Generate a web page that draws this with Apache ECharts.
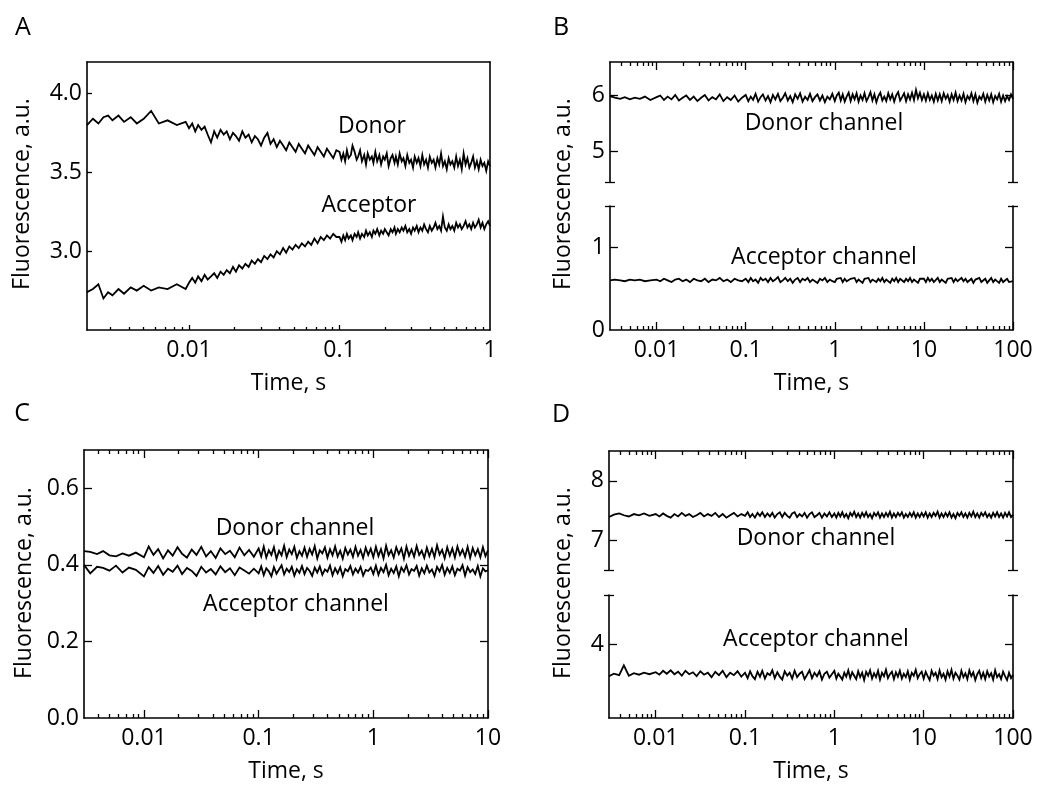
<!DOCTYPE html>
<html><head><meta charset="utf-8">
<script src="https://cdn.jsdelivr.net/npm/echarts@6/dist/echarts.min.js"></script>
<style>html,body{margin:0;padding:0;background:#fff}#c{width:1037px;height:790px}</style>
</head><body><div id="c"></div>
<script>
// ---------------- DATA ----------------
// Panel A (time, s)
const tA = [0.0021,0.0023,0.0025,0.0027,0.0029,0.0031,0.0034,0.0037,0.0041,0.0045,0.005,0.0056,0.0063,0.0072,0.0083,0.0095,
0.0100,0.0105,0.0110,0.0115,0.0121,0.0127,0.0133,0.0140,0.0147,0.0154,0.0162,0.0170,0.0178,0.0187,0.0196,0.0205,0.0215,0.0226,0.0237,0.0249,
0.0261,0.0274,0.0287,0.0301,0.0316,0.0332,0.0348,0.0365,0.0383,0.0402,0.0422,0.0442,0.0464,0.0487,0.0511,0.0536,0.0562,0.0590,0.0619,0.0649,
0.0681,0.0715,0.0750,0.0787,0.0825,0.0866,0.0909,0.0953,
0.1,0.103,0.106,0.109,0.112,0.115,0.119,0.122,0.126,0.130,0.133,0.137,0.141,0.146,0.150,0.154,0.159,0.164,0.168,0.173,
0.178,0.184,0.189,0.195,0.200,0.206,0.212,0.219,0.225,0.232,0.237,0.244,0.251,0.259,0.266,0.274,0.282,0.291,0.299,0.308,
0.316,0.326,0.335,0.345,0.355,0.365,0.376,0.387,0.398,0.410,0.422,0.434,0.447,0.460,0.473,0.487,0.501,0.516,0.531,0.546,
0.562,0.579,0.596,0.613,0.631,0.649,0.668,0.688,0.708,0.729,0.750,0.772,0.794,0.818,0.841,0.866,0.891,0.917,0.944,0.972,1.0];
const donorA = [3.80,3.84,3.81,3.85,3.86,3.83,3.86,3.82,3.85,3.81,3.84,3.89,3.81,3.83,3.80,3.82,
3.78,3.81,3.76,3.80,3.77,3.79,3.74,3.69,3.76,3.72,3.77,3.74,3.76,3.71,3.75,3.73,3.70,3.76,3.72,3.74,
3.69,3.73,3.71,3.67,3.72,3.75,3.68,3.71,3.66,3.70,3.67,3.64,3.69,3.66,3.63,3.68,3.65,3.62,3.67,3.64,
3.61,3.66,3.63,3.60,3.65,3.62,3.59,3.64,
3.63,3.58,3.62,3.57,3.64,3.59,3.61,3.67,3.63,3.58,3.60,3.64,3.57,3.61,3.55,3.62,3.58,3.60,3.56,3.63,
3.57,3.61,3.55,3.60,3.58,3.62,3.54,3.59,3.61,3.56,3.60,3.55,3.62,3.57,3.59,3.54,3.61,3.56,3.58,3.53,
3.60,3.56,3.59,3.54,3.61,3.55,3.58,3.53,3.60,3.56,3.58,3.53,3.59,3.55,3.62,3.54,3.57,3.52,3.59,3.55,
3.57,3.53,3.60,3.54,3.58,3.52,3.62,3.55,3.59,3.53,3.56,3.60,3.53,3.57,3.52,3.58,3.54,3.56,3.51,3.57,3.54];
const acceptorA = [2.74,2.76,2.79,2.70,2.74,2.72,2.76,2.73,2.77,2.75,2.78,2.75,2.77,2.76,2.79,2.76,
2.80,2.83,2.80,2.84,2.81,2.85,2.82,2.84,2.86,2.83,2.87,2.85,2.88,2.86,2.90,2.87,2.91,2.89,2.92,2.90,
2.94,2.92,2.95,2.93,2.97,2.95,2.98,2.96,3.00,2.98,3.02,2.99,3.03,3.01,3.04,3.02,3.05,3.03,3.06,3.04,
3.08,3.05,3.09,3.07,3.10,3.08,3.11,3.09,
3.09,3.06,3.10,3.07,3.11,3.08,3.10,3.07,3.11,3.09,3.12,3.08,3.11,3.09,3.13,3.10,3.12,3.09,3.13,3.11,
3.14,3.10,3.13,3.11,3.14,3.12,3.10,3.14,3.12,3.15,3.11,3.14,3.12,3.15,3.13,3.16,3.12,3.14,3.11,3.15,
3.13,3.16,3.12,3.15,3.13,3.17,3.14,3.12,3.16,3.13,3.15,3.18,3.14,3.16,3.13,3.22,3.15,3.13,3.17,3.14,
3.16,3.13,3.18,3.15,3.17,3.14,3.16,3.19,3.15,3.17,3.14,3.18,3.15,3.17,3.20,3.15,3.18,3.14,3.17,3.19,3.16];

// Panels B and D share the same time points
const tBD = [0.003,0.0034,0.0039,0.0044,0.005,0.0057,0.0065,0.0074,0.0085,
0.0100,0.0110,0.0121,0.0133,0.0147,0.0162,0.0178,0.0196,0.0215,0.0237,0.0261,0.0287,0.0316,0.0348,0.0383,0.0422,0.0464,0.0511,0.0562,0.0619,0.0681,0.0750,0.0825,0.0909,
0.100,0.107,0.114,0.121,0.129,0.138,0.147,0.156,0.167,0.178,0.190,0.202,0.215,0.230,0.245,0.261,0.278,0.297,0.316,0.337,
0.359,0.383,0.408,0.435,0.464,0.495,0.527,0.562,0.599,0.639,0.681,0.726,0.774,0.825,0.880,0.938,
1.000,1.053,1.108,1.166,1.227,1.292,1.359,1.431,1.506,1.585,1.668,1.756,1.848,1.945,2.048,2.154,2.268,2.387,2.512,2.644,
2.783,2.929,3.083,3.245,3.415,3.594,3.783,3.981,4.190,4.410,4.642,4.885,5.142,5.412,5.696,5.995,6.310,6.641,6.990,7.356,
7.743,8.149,8.577,9.027,9.501,
10.00,10.53,11.08,11.66,12.27,12.92,13.59,14.31,15.06,15.85,16.68,17.56,18.48,19.45,20.48,21.54,22.68,23.87,25.12,26.44,
27.83,29.29,30.83,32.45,34.15,35.94,37.83,39.81,41.90,44.10,46.42,48.85,51.42,54.12,56.96,59.95,63.10,66.41,69.90,73.56,
77.43,81.49,85.77,90.27,95.01,100];
const donorB = [5.99,5.96,5.94,5.97,5.93,5.96,5.94,5.98,5.92,
5.97,6.00,5.92,5.98,5.93,6.01,5.91,5.96,6.00,5.92,5.98,5.90,5.96,6.01,5.91,5.97,5.93,6.02,5.90,5.97,5.92,6.00,5.89,5.96,
6.01,5.90,5.98,5.92,6.03,5.89,5.97,6.02,5.91,5.99,5.88,6.01,5.93,6.03,5.90,5.96,6.04,5.91,5.99,5.88,
6.02,5.94,6.04,5.89,5.98,5.92,6.03,5.90,5.97,6.02,5.91,6.00,5.88,5.98,5.93,6.03,
5.90,6.00,6.05,5.91,6.02,5.89,5.98,6.05,5.90,6.02,5.93,6.04,5.89,6.00,5.92,6.04,5.90,5.97,6.06,5.91,
6.02,5.88,5.99,6.05,5.91,5.98,5.90,6.04,5.93,6.02,5.89,6.00,6.06,5.91,5.97,6.04,5.90,6.02,5.93,6.05,
5.92,6.10,5.95,6.05,5.92,
6.02,5.91,6.04,5.92,6.00,5.89,6.03,5.91,6.02,5.90,6.04,5.94,6.01,5.89,6.02,5.92,6.05,5.90,6.00,5.91,
6.03,5.88,5.99,5.93,6.04,5.90,6.02,5.87,5.98,5.93,6.03,5.89,6.01,5.91,6.02,5.88,5.99,5.93,6.03,5.89,
6.00,5.90,5.99,5.92,6.02,5.94];
const acceptorB = [0.60,0.61,0.60,0.59,0.61,0.60,0.61,0.59,0.60,
0.61,0.59,0.62,0.60,0.58,0.61,0.62,0.59,0.61,0.58,0.62,0.60,0.59,0.62,0.58,0.61,0.60,0.63,0.59,0.61,0.58,0.62,0.60,0.59,
0.62,0.58,0.63,0.59,0.61,0.57,0.63,0.60,0.62,0.58,0.63,0.59,0.61,0.64,0.58,0.60,0.63,0.59,0.62,0.57,
0.61,0.63,0.58,0.62,0.60,0.63,0.58,0.61,0.59,0.57,0.62,0.60,0.63,0.58,0.61,0.59,
0.58,0.62,0.60,0.63,0.58,0.62,0.59,0.57,0.62,0.60,0.63,0.58,0.61,0.59,0.57,0.62,0.60,0.63,0.58,0.61,
0.62,0.58,0.62,0.59,0.63,0.58,0.61,0.60,0.57,0.62,0.59,0.63,0.58,0.62,0.60,0.58,0.62,0.59,0.63,0.58,
0.61,0.60,0.57,0.62,0.60,
0.62,0.58,0.63,0.59,0.62,0.58,0.60,0.63,0.58,0.61,0.59,0.57,0.62,0.60,0.63,0.58,0.62,0.59,0.57,0.63,
0.59,0.62,0.58,0.60,0.62,0.57,0.61,0.59,0.63,0.58,0.60,0.62,0.57,0.60,0.63,0.58,0.61,0.59,0.57,0.62,
0.58,0.60,0.62,0.58,0.60,0.59];
const donorD = [7.39,7.43,7.45,7.42,7.40,7.44,7.42,7.45,7.41,
7.44,7.40,7.45,7.41,7.38,7.44,7.40,7.46,7.41,7.44,7.39,7.42,7.46,7.40,7.44,7.41,7.46,7.39,7.44,7.38,7.42,7.46,7.40,7.44,
7.41,7.47,7.39,7.44,7.38,7.46,7.41,7.47,7.39,7.45,7.40,7.46,7.38,7.44,7.47,7.39,7.46,7.41,7.38,7.45,
7.47,7.39,7.44,7.40,7.46,7.38,7.44,7.47,7.39,7.42,7.46,7.38,7.45,7.40,7.47,7.39,
7.45,7.38,7.46,7.40,7.47,7.39,7.44,7.37,7.46,7.41,7.48,7.39,7.45,7.38,7.46,7.40,7.47,7.39,7.44,7.37,
7.46,7.41,7.47,7.38,7.45,7.39,7.46,7.40,7.48,7.38,7.45,7.39,7.46,7.41,7.47,7.38,7.44,7.39,7.46,7.40,
7.47,7.38,7.45,7.39,7.46,
7.40,7.47,7.38,7.45,7.39,7.46,7.41,7.48,7.38,7.45,7.39,7.46,7.40,7.47,7.38,7.44,7.37,7.46,7.41,7.47,
7.39,7.45,7.38,7.46,7.40,7.48,7.39,7.45,7.38,7.46,7.41,7.47,7.39,7.44,7.38,7.46,7.40,7.47,7.39,7.45,
7.38,7.46,7.40,7.47,7.39,7.43];
const acceptorD = [3.35,3.40,3.37,3.57,3.36,3.41,3.38,3.42,3.39,
3.43,3.38,3.46,3.40,3.47,3.39,3.44,3.36,3.46,3.39,3.43,3.35,3.45,3.38,3.42,3.33,3.44,3.37,3.46,3.33,3.42,3.37,3.45,3.34,
3.42,3.31,3.45,3.35,3.29,3.44,3.34,3.46,3.30,3.41,3.37,3.47,3.31,3.43,3.34,3.28,3.45,3.36,3.42,3.30,
3.46,3.33,3.40,3.44,3.29,3.38,3.47,3.31,3.42,3.35,3.45,3.28,3.40,3.44,3.32,3.39,
3.46,3.30,3.40,3.44,3.28,3.42,3.34,3.47,3.31,3.43,3.36,3.29,3.45,3.33,3.42,3.27,3.44,3.36,3.47,3.30,
3.41,3.33,3.46,3.28,3.42,3.35,3.48,3.31,3.39,3.44,3.29,3.43,3.34,3.46,3.30,3.40,3.33,3.45,3.28,3.42,
3.36,3.48,3.31,3.39,3.44,
3.30,3.44,3.35,3.27,3.46,3.36,3.42,3.29,3.47,3.33,3.40,3.28,3.45,3.34,3.48,3.30,3.42,3.36,3.28,3.46,
3.33,3.41,3.29,3.47,3.35,3.43,3.27,3.39,3.46,3.31,3.42,3.29,3.45,3.34,3.41,3.28,3.47,3.33,3.39,3.29,
3.44,3.35,3.27,3.42,3.31,3.38];

// Panel C
const tC = [0.003,0.0034,0.0039,0.0044,0.005,0.0057,0.0065,0.0074,0.0085,
0.0100,0.0110,0.0121,0.0133,0.0147,0.0162,0.0178,0.0196,0.0215,0.0237,0.0261,0.0287,0.0316,0.0348,0.0383,0.0422,0.0464,0.0511,0.0562,0.0619,0.0681,0.0750,0.0825,0.0909,
0.1000,0.1053,0.1108,0.1166,0.1227,0.1292,0.1359,0.1431,0.1506,0.1585,0.1668,0.1756,0.1848,0.1945,0.2048,0.2154,0.2268,0.2387,0.2512,0.2644,
0.2783,0.2929,0.3083,0.3245,0.3415,0.3594,0.3783,0.3981,0.4190,0.4410,0.4642,0.4885,0.5142,0.5412,0.5696,0.5995,0.6310,0.6641,0.6990,0.7356,
0.7743,0.8149,0.8577,0.9027,0.9501,
1.000,1.053,1.108,1.166,1.227,1.292,1.359,1.431,1.506,1.585,1.668,1.756,1.848,1.945,2.048,2.154,2.268,2.387,2.512,2.644,
2.783,2.929,3.083,3.245,3.415,3.594,3.783,3.981,4.190,4.410,4.642,4.885,5.142,5.412,5.696,5.995,6.310,6.641,6.990,7.356,
7.743,8.149,8.577,9.027,9.501,10];
const donorC = [0.436,0.434,0.428,0.436,0.425,0.422,0.430,0.424,0.432,
0.420,0.448,0.426,0.441,0.417,0.438,0.424,0.446,0.429,0.419,0.440,0.426,0.447,0.422,0.436,0.418,0.443,0.428,0.437,0.420,0.445,0.425,0.439,0.421,
0.443,0.422,0.448,0.419,0.438,0.426,0.446,0.416,0.437,0.425,0.450,0.420,0.440,0.428,0.447,0.418,0.436,0.424,0.445,0.421,
0.442,0.427,0.449,0.417,0.438,0.430,0.446,0.419,0.441,0.425,0.448,0.422,0.437,0.416,0.444,0.427,0.440,0.421,0.447,0.424,
0.439,0.418,0.445,0.426,0.442,
0.420,0.447,0.423,0.441,0.417,0.450,0.425,0.438,0.419,0.446,0.428,0.443,0.416,0.448,0.424,0.440,0.421,0.449,0.426,0.437,
0.418,0.445,0.423,0.442,0.420,0.451,0.427,0.439,0.417,0.446,0.424,0.443,0.419,0.448,0.426,0.440,0.421,0.447,0.418,0.444,
0.425,0.441,0.420,0.446,0.423,0.438];
const acceptorC = [0.400,0.378,0.395,0.392,0.385,0.398,0.380,0.393,0.387,
0.370,0.394,0.379,0.397,0.374,0.390,0.382,0.398,0.376,0.392,0.384,0.371,0.395,0.380,0.389,0.375,0.396,0.381,0.391,0.373,0.393,0.385,0.377,0.390,
0.378,0.396,0.373,0.391,0.383,0.370,0.394,0.377,0.388,0.399,0.375,0.390,0.381,0.395,0.372,0.389,0.379,0.397,0.376,0.392,
0.384,0.371,0.393,0.380,0.396,0.374,0.388,0.382,0.398,0.373,0.391,0.378,0.394,0.370,0.389,0.383,0.397,0.375,0.390,0.380,
0.395,0.372,0.387,0.384,0.393,
0.376,0.398,0.374,0.392,0.381,0.400,0.373,0.390,0.379,0.396,0.370,0.393,0.382,0.399,0.375,0.389,0.384,0.397,0.372,0.391,
0.378,0.398,0.380,0.388,0.371,0.395,0.383,0.400,0.374,0.392,0.379,0.396,0.373,0.390,0.385,0.399,0.372,0.394,0.381,0.388,
0.376,0.397,0.370,0.391,0.383,0.386];

// Tick values / labels
const xTicksA = [0.01, 0.1, 1];
const xTicksB = [0.01, 0.1, 1, 10, 100];
const xTicksC = [0.01, 0.1, 1, 10];
const xTicksD = [0.01, 0.1, 1, 10, 100];
const yTicksA = [3.0, 3.5, 4.0];
const yTicksBUpper = [5, 6];
const yTicksBLower = [0, 1];
const yTicksC = [0.0, 0.2, 0.4, 0.6];
const yTicksDUpper = [7, 8];
const yTicksDLower = [4];

// ---------------- BUILD ----------------
const FONT = '"Open Sans", "Noto Sans", sans-serif';
const FS = 23;
const LINE = {color: '#000', width: 1.6};
const TICK = {color: '#000', width: 1.3};
const grid = [], xAxis = [], yAxis = [], series = [];

function fmtX(v) { return String(+Number(v).toPrecision(6)); }
function fmt1(v) { return Number(v).toFixed(1); }
function fmt0(v) { return String(Math.round(v)); }
function minorTicks(min, max) {
  const out = [];
  for (let e = -4; e <= 2; e++) for (let k = 2; k <= 9; k++) {
    const v = +(k * Math.pow(10, e)).toPrecision(6);
    if (v > min && v < max) out.push(v);
  }
  return out;
}
function xAx(gi, min, max, pos, o) {
  const a = {
    gridIndex: gi, type: 'log', logBase: 10, min: min, max: max, position: pos,
    splitLine: {show: false}, minorTick: {show: false},
    axisLine: {show: !!o.line, onZero: false, lineStyle: LINE},
    axisTick: {show: !!o.ticks, inside: true, length: o.len || 8, lineStyle: TICK},
    axisLabel: {show: !!o.labels, formatter: fmtX, fontFamily: FONT, fontSize: FS, color: '#000', margin: 9},
    axisPointer: {show: false}
  };
  if (o.ticks) a.axisTick.customValues = o.ticks;
  if (o.labels) a.axisLabel.customValues = o.labels;
  if (o.name) {
    a.name = o.name; a.nameLocation = 'middle'; a.nameGap = 42;
    a.nameTextStyle = {fontFamily: FONT, fontSize: FS, color: '#000'};
  }
  return xAxis.push(a) - 1;
}
function yAx(gi, min, max, pos, o) {
  const a = {
    gridIndex: gi, type: 'value', min: min, max: max, position: pos,
    splitLine: {show: false},
    axisLine: {show: !!o.line, onZero: false, lineStyle: LINE},
    axisTick: {show: !!o.ticks, inside: o.outside ? false : true, length: o.len || 8, lineStyle: TICK},
    axisLabel: {show: !!o.labels, formatter: o.fmt || fmt0, fontFamily: FONT, fontSize: FS, color: '#000', margin: 5},
    axisPointer: {show: false}
  };
  if (o.ticks) a.axisTick.customValues = o.ticks;
  if (o.labels) a.axisLabel.customValues = o.labels;
  return yAxis.push(a) - 1;
}
function caps(gi, min, max, v) {
  ['left', 'right'].forEach(function (p) {
    yAx(gi, min, max, p, {ticks: [v], len: 5});
    yAx(gi, min, max, p, {ticks: [v], len: 5, outside: true});
  });
}
function line(name, t, vals, xi, yi) {
  series.push({
    name: name, type: 'line', xAxisIndex: xi, yAxisIndex: yi,
    data: t.map(function (x, i) { return [x, vals[i]]; }),
    showSymbol: false, symbol: 'none', smooth: false, sampling: null,
    lineStyle: {color: '#000', width: 1.8, join: 'miter'}, itemStyle: {color: '#000'},
    silent: true, animation: false
  });
}

// Panel A
(function () {
  const g = grid.push({left: 87, top: 62, width: 403, height: 268}) - 1;
  const mn = 0.0021, mx = 1;
  const xi = xAx(g, mn, mx, 'bottom', {line: true, ticks: [0.01, 0.1], len: 5, labels: xTicksA, name: 'Time, s'});
  xAx(g, mn, mx, 'bottom', {ticks: minorTicks(mn, mx), len: 3});
  xAx(g, mn, mx, 'top', {line: true});
  const yi = yAx(g, 2.5, 4.2, 'left', {line: true, ticks: yTicksA, len: 5, labels: yTicksA, fmt: fmt1});
  yAx(g, 2.5, 4.2, 'right', {line: true});
  line('Donor', tA, donorA, xi, yi);
  line('Acceptor', tA, acceptorA, xi, yi);
})();

// Panel B (broken y axis)
(function () {
  const mn = 0.003, mx = 100;
  const gU = grid.push({left: 610, top: 62, width: 403, height: 120}) - 1;
  const xU = xAx(gU, mn, mx, 'top', {line: true, ticks: xTicksB, len: 8});
  xAx(gU, mn, mx, 'top', {ticks: minorTicks(mn, mx), len: 4});
  const yU = yAx(gU, 4.45, 6.6, 'left', {line: true, ticks: yTicksBUpper, labels: yTicksBUpper});
  yAx(gU, 4.45, 6.6, 'right', {line: true, ticks: yTicksBUpper});
  caps(gU, 4.45, 6.6, 4.45);
  const gL = grid.push({left: 610, top: 206, width: 403, height: 124}) - 1;
  const xL = xAx(gL, mn, mx, 'bottom', {line: true, ticks: xTicksB, len: 8, labels: xTicksB, name: 'Time, s'});
  xAx(gL, mn, mx, 'bottom', {ticks: minorTicks(mn, mx), len: 4});
  const yL = yAx(gL, 0, 1.5, 'left', {line: true, ticks: [1], labels: yTicksBLower});
  yAx(gL, 0, 1.5, 'right', {line: true, ticks: [1]});
  caps(gL, 0, 1.5, 1.5);
  line('Donor channel', tBD, donorB, xU, yU);
  line('Acceptor channel', tBD, acceptorB, xL, yL);
})();

// Panel C
(function () {
  const mn = 0.003, mx = 10;
  const g = grid.push({left: 84, top: 450, width: 404, height: 268}) - 1;
  const xi = xAx(g, mn, mx, 'bottom', {line: true, ticks: xTicksC, len: 8, labels: xTicksC, name: 'Time, s'});
  xAx(g, mn, mx, 'bottom', {ticks: minorTicks(mn, mx), len: 4});
  xAx(g, mn, mx, 'top', {line: true, ticks: xTicksC, len: 8});
  xAx(g, mn, mx, 'top', {ticks: minorTicks(mn, mx), len: 4});
  const yi = yAx(g, 0, 0.7, 'left', {line: true, ticks: [0.2, 0.4, 0.6], labels: yTicksC, fmt: fmt1});
  yAx(g, 0, 0.7, 'right', {line: true, ticks: [0.2, 0.4, 0.6]});
  line('Donor channel', tC, donorC, xi, yi);
  line('Acceptor channel', tC, acceptorC, xi, yi);
})();

// Panel D (broken y axis)
(function () {
  const mn = 0.003, mx = 100;
  const gU = grid.push({left: 609, top: 451, width: 404, height: 119}) - 1;
  const xU = xAx(gU, mn, mx, 'top', {line: true, ticks: xTicksD, len: 8});
  xAx(gU, mn, mx, 'top', {ticks: minorTicks(mn, mx), len: 4});
  const yU = yAx(gU, 6.5, 8.5, 'left', {line: true, ticks: yTicksDUpper, labels: yTicksDUpper});
  yAx(gU, 6.5, 8.5, 'right', {line: true, ticks: yTicksDUpper});
  caps(gU, 6.5, 8.5, 6.5);
  const gL = grid.push({left: 609, top: 595, width: 404, height: 123}) - 1;
  const xL = xAx(gL, mn, mx, 'bottom', {line: true, ticks: xTicksD, len: 8, labels: xTicksD, name: 'Time, s'});
  xAx(gL, mn, mx, 'bottom', {ticks: minorTicks(mn, mx), len: 4});
  const yL = yAx(gL, 2.5, 5, 'left', {line: true, ticks: yTicksDLower, labels: yTicksDLower});
  yAx(gL, 2.5, 5, 'right', {line: true, ticks: yTicksDLower});
  caps(gL, 2.5, 5, 5);
  line('Donor channel', tBD, donorD, xU, yU);
  line('Acceptor channel', tBD, acceptorD, xL, yL);
})();

grid.forEach(function (g) { g.containLabel = false; g.outerBoundsMode = 'none'; });

function txt(s, x, y, rot, size) {
  return {
    type: 'text', x: x, y: y, rotation: rot || 0, silent: true,
    style: {text: s, fill: '#000', font: (size || FS) + 'px ' + FONT,
      textAlign: 'center', textVerticalAlign: 'middle', align: 'center', verticalAlign: 'middle'}
  };
}
const graphic = [
  txt('A', 23, 28, 0, 25), txt('B', 561, 28, 0, 25), txt('C', 22, 414, 0, 25), txt('D', 561, 415, 0, 25),
  txt('Fluorescence, a.u.', 22, 194, Math.PI / 2),
  txt('Fluorescence, a.u.', 563, 194, Math.PI / 2),
  txt('Fluorescence, a.u.', 24, 583, Math.PI / 2),
  txt('Fluorescence, a.u.', 563, 583, Math.PI / 2),
  txt('Donor', 372, 126), txt('Acceptor', 369, 205),
  txt('Donor channel', 824, 123), txt('Acceptor channel', 824, 257),
  txt('Donor channel', 295, 528), txt('Acceptor channel', 296, 604),
  txt('Donor channel', 816, 538), txt('Acceptor channel', 816, 639)
];

const chart = echarts.init(document.getElementById('c'), null, {renderer: 'canvas'});
chart.setOption({
  animation: false,
  backgroundColor: '#fff',
  textStyle: {fontFamily: FONT},
  grid: grid, xAxis: xAxis, yAxis: yAxis, series: series, graphic: graphic
});
</script>
</body></html>
